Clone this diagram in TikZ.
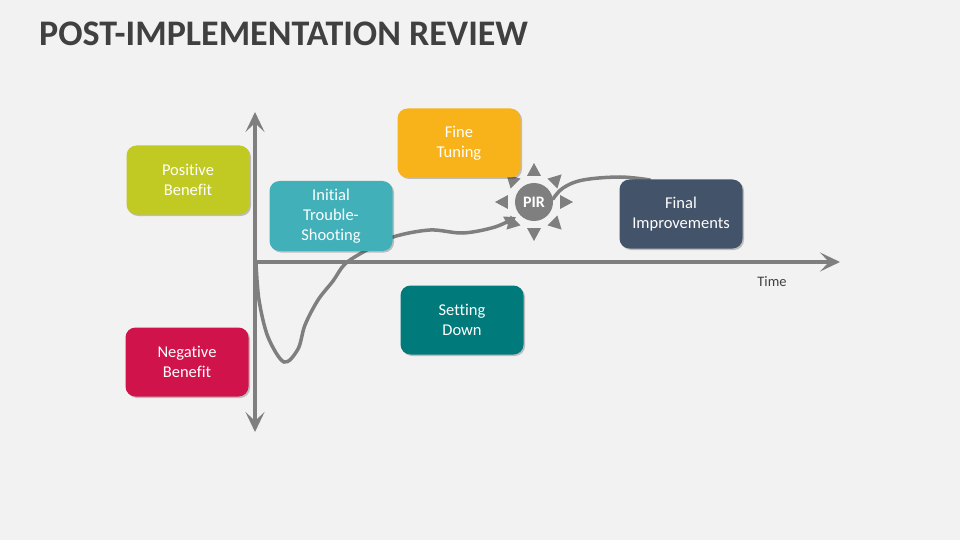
\documentclass[tikz,border=0pt]{standalone}
\usepackage{fontspec}
\setmainfont[Ligatures={NoCommon}]{Carlito}
\usetikzlibrary{arrows.meta,shadows}
\definecolor{bg}{HTML}{F2F2F2}
\definecolor{titlec}{HTML}{404040}
\definecolor{axisc}{HTML}{7F7F7F}
\definecolor{posc}{HTML}{C1C923}
\definecolor{negc}{HTML}{D0144B}
\definecolor{initc}{HTML}{41B0B9}
\definecolor{finec}{HTML}{F8B21A}
\definecolor{setc}{HTML}{017A7B}
\definecolor{finalc}{HTML}{435369}
\tikzset{
  stagebox/.style={rounded corners=10pt, minimum width=123pt, minimum height=69pt,
    text=white, align=center, font=\fontsize{16.5}{20}\selectfont,
    drop shadow={shadow xshift=1.5pt, shadow yshift=-1.5pt, fill=black, opacity=0.22}},
  axisline/.style={draw=axisc, line width=4pt,
    arrows={Stealth[length=20pt,width=19pt,inset=9pt]-Stealth[length=20pt,width=19pt,inset=9pt]}},
  curveline/.style={draw=axisc, line width=3.5pt, line cap=round},
}
\begin{document}
\begin{tikzpicture}[x=1pt,y=-1pt]
\useasboundingbox (0,0) rectangle (960,540);
\fill[bg] (0,0) rectangle (960,540);
\node[anchor=base west, text=titlec, font=\fontsize{36}{40}\selectfont\bfseries, inner sep=0pt] (title) at (39,46) {POST-IMPLEMENTATION REVIEW};

% axes
\coordinate (vtop) at (255,112);
\coordinate (vbot) at (255,432);
\coordinate (origin) at (255,262);
\coordinate (hend) at (840,262);
\draw[axisline] (vbot) -- (vtop);
\draw[draw=axisc, line width=4pt, -{Stealth[length=20pt,width=19pt,inset=9pt]}] (253,262) -- (hend);
\node[text=titlec, font=\fontsize{14.5}{16}\selectfont] (time) at (772,282) {Time};

% PIR
\coordinate (pirc) at (534,202);

% curve
\draw[curveline, -{Triangle[length=11pt,width=13pt]}] plot[smooth, tension=0.55] coordinates {
 (256,263) (259,300) (268,337) (284,362) (298,349) (305,325) (318,300) (333,281) (345,264)
 (365,251) (393,237) (430,230) (463,233) (495,227) (516,217)};
\draw[curveline] plot[smooth, tension=0.6] coordinates {
 (553,199) (563,188) (583,180) (620,177) (650,180)};

% sun
\begin{scope}[shift={(pirc)}]
\foreach \a in {0,45,...,315}{
  \fill[axisc] (\a:39) -- ({\a+15}:27) -- ({\a-15}:27) -- cycle;
}
\end{scope}
\node[circle, fill=axisc, minimum size=38pt, inner sep=0pt, text=white, font=\fontsize{16}{16}\selectfont\bfseries] (pir) at (pirc) {PIR};

% boxes
\node[stagebox, fill=posc] (pos) at (188,180) {Positive\\Benefit};
\node[stagebox, fill=negc] (neg) at (187,362) {Negative\\Benefit};
\node[stagebox, fill=initc, minimum height=70pt] (init) at (331,216) {Initial\\Trouble-\\Shooting};
\node[stagebox, fill=finec] (fine) at (459,143) {Fine\\Tuning};
\node[stagebox, fill=setc] (set) at (462,320) {Setting\\Down};
\node[stagebox, fill=finalc] (final) at (681,214) {Final\\Improvements};
\end{tikzpicture}
\end{document}
